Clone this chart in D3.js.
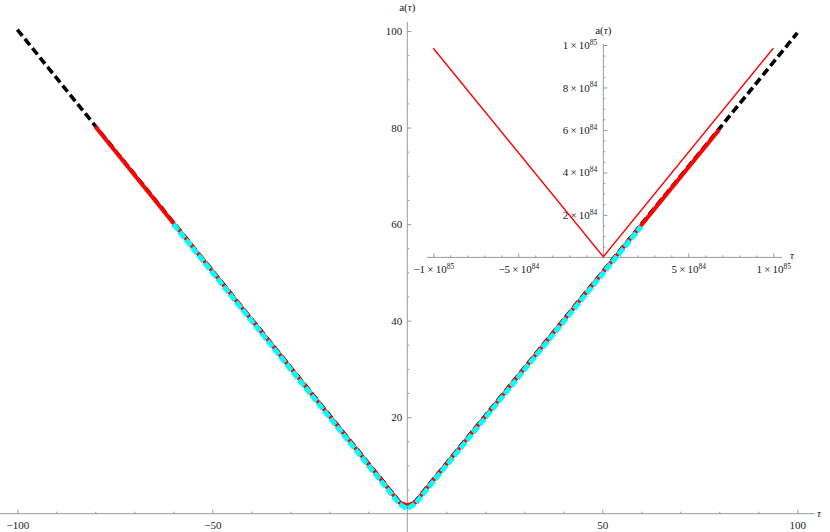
<!DOCTYPE html>
<html>
<head>
<meta charset="utf-8">
<script src="https://cdn.jsdelivr.net/npm/d3@7"></script>
<style>
  html, body { margin: 0; padding: 0; background: #fff; }
  svg { display: block; }
  text { font-family: "Liberation Serif", "DejaVu Serif", serif; fill: #222; }
</style>
</head>
<body>
<svg id="chart" width="830" height="532"></svg>
<script>
// ---------- data ----------
// main plot: black dashed curve
const blackTau = [-100, -2, 0, 2, 100];
const blackA   = [100.3, 2.5, 1.5, 2.5, 99.6];
// red thick curve
const redTau = [-80, -2, 0, 2, 80];
const redA   = [80.2, 2.3, 1.7, 2.3, 79.6];
// cyan dashed curve
const cyanTau = [-60, -2, 0, 2, 60];
const cyanA   = [60.0, 2.0, 1.0, 2.0, 59.5];
// main ticks
const mainXMajor = [-100, -50, 50, 100];
const mainXMinor = [-90, -80, -70, -60, -40, -30, -20, -10, 10, 20, 30, 40, 60, 70, 80, 90];
const mainYMajor = [20, 40, 60, 80, 100];
const mainYMinor = [5, 10, 15, 25, 30, 35, 45, 50, 55, 65, 70, 75, 85, 90, 95];

// inset curve
const insetTau = [-1e85, 0, 1e85];
const insetA   = [9.85e84, 0.03e84, 9.85e84];
// inset ticks
const insetXMajor = [-1e85, -5e84, 5e84, 1e85];
const insetXMantissa = ["\u22121", "\u22125", "5", "1"];
const insetXExponent = ["85", "84", "84", "85"];
const insetXMinor = [-9e84, -8e84, -7e84, -6e84, -4e84, -3e84, -2e84, -1e84,
                     1e84, 2e84, 3e84, 4e84, 6e84, 7e84, 8e84, 9e84];
const insetYMajor = [2e84, 4e84, 6e84, 8e84, 1e85];
const insetYMantissa = ["2", "4", "6", "8", "1"];
const insetYExponent = ["84", "84", "84", "84", "85"];
const insetYMinor = [5e83, 1e84, 1.5e84, 2.5e84, 3e84, 3.5e84, 4.5e84, 5e84, 5.5e84,
                     6.5e84, 7e84, 7.5e84, 8.5e84, 9e84, 9.5e84];

// ---------- drawing ----------
const svg = d3.select("#chart");
const AXIS = "#9a9a9a";
const FS = 11;

const x = d3.scaleLinear().domain([-100, 100]).range([17.3, 797.3]);
const y = d3.scaleLinear().domain([0, 100]).range([513.7, 31]);

const xi = d3.scaleLinear().domain([-1e85, 1e85]).range([433.3, 773.3]);
const yi = d3.scaleLinear().domain([0, 1e85]).range([257.4, 45]);

function styleAxis(g) {
  g.select(".domain").remove();
  g.selectAll(".tick line").attr("stroke", AXIS).attr("stroke-width", 1);
  g.selectAll(".tick text").attr("font-size", FS).attr("fill", "#222")
    .attr("font-family", '"Liberation Serif", serif');
}

// ----- main axes -----
const gMain = svg.append("g");
// axis lines
gMain.append("line")
  .attr("x1", x(-104.4)).attr("x2", x(104.4))
  .attr("y1", y(0)).attr("y2", y(0))
  .attr("stroke", AXIS).attr("stroke-width", 1);
gMain.append("line")
  .attr("x1", x(0)).attr("x2", x(0))
  .attr("y1", y(101.9)).attr("y2", y(-4))
  .attr("stroke", AXIS).attr("stroke-width", 1);

gMain.append("g").attr("transform", `translate(0,${y(0)})`)
  .call(d3.axisBottom(x).tickValues(mainXMinor).tickSize(-2).tickFormat(""))
  .call(styleAxis);
gMain.append("g").attr("transform", `translate(0,${y(0)})`)
  .call(d3.axisBottom(x).tickValues(mainXMajor).tickSize(-4).tickPadding(7.5)
        .tickFormat(d => d < 0 ? "\u2212" + Math.abs(d) : String(d)))
  .call(styleAxis);

gMain.append("g").attr("transform", `translate(${x(0)},0)`)
  .call(d3.axisLeft(y).tickValues(mainYMinor).tickSize(-2).tickFormat(""))
  .call(styleAxis);
gMain.append("g").attr("transform", `translate(${x(0)},0)`)
  .call(d3.axisLeft(y).tickValues(mainYMajor).tickSize(-4).tickPadding(5)
        .tickFormat(d => String(d)))
  .call(styleAxis);

// axis labels
function aTauLabel(g, cx, by) {
  const t = g.append("text").attr("x", cx).attr("y", by)
    .attr("text-anchor", "middle").attr("font-size", FS);
  t.append("tspan").text("a(");
  t.append("tspan").attr("font-style", "italic").text("\u03C4");
  t.append("tspan").text(")");
}
aTauLabel(svg, x(0), 11);
svg.append("text").attr("x", 817).attr("y", 517).attr("font-size", FS)
  .attr("font-style", "italic").text("\u03C4");

// ----- inset axes -----
const gIn = svg.append("g");
gIn.append("line")
  .attr("x1", xi(-1.037e85)).attr("x2", xi(1.052e85))
  .attr("y1", yi(0)).attr("y2", yi(0))
  .attr("stroke", AXIS).attr("stroke-width", 1);
gIn.append("line")
  .attr("x1", xi(0)).attr("x2", xi(0))
  .attr("y1", yi(1.005e85)).attr("y2", yi(-0.04e84))
  .attr("stroke", AXIS).attr("stroke-width", 1);

gIn.append("g").attr("transform", `translate(0,${yi(0)})`)
  .call(d3.axisBottom(xi).tickValues(insetXMinor).tickSize(-2).tickFormat(""))
  .call(styleAxis);
const gix = gIn.append("g").attr("transform", `translate(0,${yi(0)})`)
  .call(d3.axisBottom(xi).tickValues(insetXMajor).tickSize(-4).tickPadding(7.5).tickFormat(""))
  .call(styleAxis);
gix.selectAll(".tick text").each(function(d, i) {
  const t = d3.select(this);
  t.append("tspan").text(insetXMantissa[i] + "\u2009\u00D7\u200910");
  t.append("tspan").attr("font-size", 7.5).attr("dy", "-0.55em").text(insetXExponent[i]);
});

gIn.append("g").attr("transform", `translate(${xi(0)},0)`)
  .call(d3.axisLeft(yi).tickValues(insetYMinor).tickSize(-2).tickFormat(""))
  .call(styleAxis);
const giy = gIn.append("g").attr("transform", `translate(${xi(0)},0)`)
  .call(d3.axisLeft(yi).tickValues(insetYMajor).tickSize(-4).tickPadding(6).tickFormat(""))
  .call(styleAxis);
giy.selectAll(".tick text").each(function(d, i) {
  const t = d3.select(this);
  t.append("tspan").text(insetYMantissa[i] + "\u2009\u00D7\u200910");
  t.append("tspan").attr("font-size", 7.5).attr("dy", "-0.55em").text(insetYExponent[i]);
});

aTauLabel(svg, xi(0), 34);
svg.append("text").attr("x", 790).attr("y", 259).attr("font-size", FS)
  .attr("font-style", "italic").text("\u03C4");

// ----- curves -----
const mainLine = (taus, as) => d3.line().x(i => x(taus[i])).y(i => y(as[i]))(d3.range(taus.length));
const insetLine = (taus, as) => d3.line().x(i => xi(taus[i])).y(i => yi(as[i]))(d3.range(taus.length));

svg.append("path").attr("d", insetLine(insetTau, insetA))
  .attr("fill", "none").attr("stroke", "#ff0000").attr("stroke-width", 1.4);

svg.append("path").attr("d", mainLine(blackTau, blackA))
  .attr("fill", "none").attr("stroke", "#000").attr("stroke-width", 3.6)
  .attr("stroke-dasharray", "8,4");
svg.append("path").attr("d", mainLine(redTau, redA))
  .attr("fill", "none").attr("stroke", "#ff0000").attr("stroke-width", 4);
svg.append("path").attr("d", mainLine(cyanTau, cyanA))
  .attr("fill", "none").attr("stroke", "#00ffff").attr("stroke-width", 5)
  .attr("stroke-dasharray", "8,2");
</script>
</body>
</html>
